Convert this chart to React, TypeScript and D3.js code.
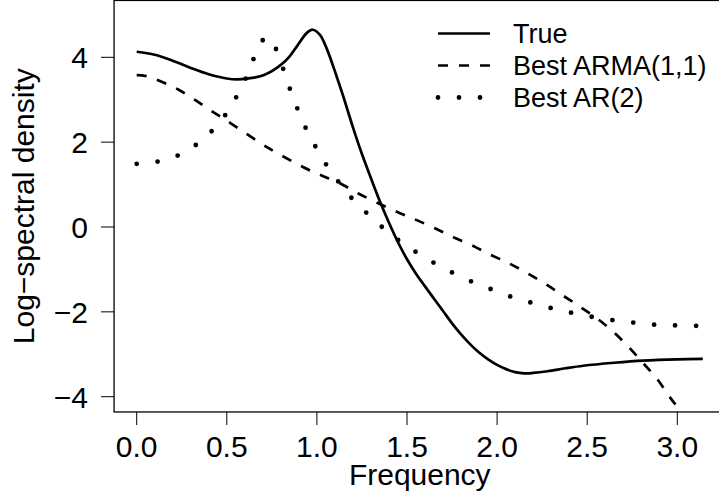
import React from "react";
import * as d3 from "d3";

const trueFreq = [0, 0.1, 0.2, 0.3, 0.4, 0.5, 0.56, 0.65, 0.707, 0.8, 0.85, 0.891, 0.943, 0.977, 1.017, 1.054, 1.091, 1.119, 1.147, 1.2, 1.25, 1.3, 1.35, 1.4, 1.45, 1.5, 1.55, 1.6, 1.65, 1.7, 1.75, 1.8, 1.85, 1.9, 1.95, 2.0, 2.05, 2.1, 2.15, 2.2, 2.28, 2.38, 2.478, 2.65, 2.811, 3.0, 3.1416];
const trueVals = [4.13, 4.06, 3.92, 3.75, 3.6, 3.5, 3.48, 3.52, 3.58, 3.82, 4.03, 4.27, 4.57, 4.65, 4.53, 4.21, 3.78, 3.43, 3.07, 2.35, 1.72, 1.15, 0.6, 0.1, -0.36, -0.76, -1.1, -1.4, -1.69, -1.98, -2.27, -2.53, -2.76, -2.96, -3.12, -3.25, -3.35, -3.42, -3.45, -3.44, -3.4, -3.33, -3.27, -3.2, -3.15, -3.12, -3.11];

const armaFreq = [0, 0.05, 0.1, 0.235, 0.42, 0.52, 0.72, 0.92, 1.017, 1.128, 1.23, 1.443, 1.544, 1.655, 1.757, 1.859, 1.961, 2.068, 2.168, 2.271, 2.367, 2.464, 2.553, 2.645, 2.728, 2.811, 2.886, 2.95, 3.006, 3.1416];
const armaVals = [3.58, 3.56, 3.49, 3.23, 2.72, 2.45, 1.89, 1.42, 1.23, 1.03, 0.79, 0.36, 0.18, -0.03, -0.24, -0.43, -0.65, -0.86, -1.09, -1.35, -1.62, -1.89, -2.15, -2.47, -2.82, -3.21, -3.57, -3.96, -4.28, -5.1];

const arFreq = [0, 0.114, 0.225, 0.327, 0.414, 0.49, 0.551, 0.605, 0.647, 0.697, 0.725, 0.771, 0.812, 0.849, 0.89, 0.935, 0.989, 1.049, 1.119, 1.189, 1.271, 1.356, 1.446, 1.543, 1.643, 1.744, 1.85, 1.957, 2.068, 2.177, 2.29, 2.4, 2.517, 2.634, 2.749, 2.863, 2.98, 3.096, 3.1416];
const arVals = [1.49, 1.54, 1.68, 1.93, 2.25, 2.63, 3.05, 3.5, 3.95, 4.39, 4.48, 4.21, 3.74, 3.27, 2.81, 2.36, 1.92, 1.49, 1.07, 0.7, 0.35, 0.02, -0.29, -0.57, -0.83, -1.06, -1.27, -1.45, -1.63, -1.77, -1.9, -2.01, -2.11, -2.19, -2.25, -2.3, -2.32, -2.33, -2.33];

const xTicks = [0, 0.5, 1.0, 1.5, 2.0, 2.5, 3.0];
const yTicks = [-4, -2, 0, 2, 4];
const legendLabels = ["True", "Best ARMA(1,1)", "Best AR(2)"];
const xLimits = [-0.04 * Math.PI, 1.04 * Math.PI];
const yLimits = [-4.36, 5.34];

const W = 719;
const H = 495;
const FONT = "'Liberation Sans', Arial, Helvetica, sans-serif";

export default function App() {
  const x = d3.scaleLinear().domain([0, 3]).range([136.7, 677.3]);
  const y = d3.scaleLinear().domain([-4, 4]).range([396.7, 57.3]);
  const left = x(xLimits[0]);
  const right = x(xLimits[1]);
  const top = y(yLimits[1]);
  const bottom = y(yLimits[0]);

  const line = d3
    .line<[number, number]>()
    .x((d) => x(d[0]))
    .y((d) => y(d[1]))
    .curve(d3.curveCatmullRom.alpha(0.5));

  const toPts = (fs: number[], vs: number[]) => fs.map((f, i) => [f, vs[i]] as [number, number]);
  const fmtY = (v: number) => (v < 0 ? "\u2212" + Math.abs(v) : String(v));

  const styles = [
    { strokeWidth: 2.7, dash: undefined as string | undefined, cap: "butt" },
    { strokeWidth: 2.7, dash: "10 11", cap: "butt" },
    { strokeWidth: 4.8, dash: "0 21", cap: "round" },
  ];
  const series = [toPts(trueFreq, trueVals), toPts(armaFreq, armaVals), toPts(arFreq, arVals)];
  const legendY = [33.5, 65.5, 97.5];

  return (
    <svg width={W} height={H} style={{ position: "absolute", left: 0, top: 0, background: "#fff" }} fontFamily={FONT}>
      <defs>
        <clipPath id="plotclip">
          <rect x={left} y={top} width={right - left} height={bottom - top} />
        </clipPath>
      </defs>
      <rect x={0} y={0} width={W} height={H} fill="#fff" />
      <g clipPath="url(#plotclip)">
        {series.map((pts, i) => (
          <path
            key={i}
            d={line(pts) || ""}
            fill="none"
            stroke="#000"
            strokeWidth={styles[i].strokeWidth}
            strokeDasharray={styles[i].dash}
            strokeLinecap={styles[i].cap as any}
            strokeLinejoin="round"
          />
        ))}
      </g>
      <rect x={left} y={top} width={right - left} height={bottom - top} fill="none" stroke="#000" strokeWidth={1.3} />
      {yTicks.map((t) => (
        <g key={"y" + t}>
          <line x1={left - 13} x2={left} y1={y(t)} y2={y(t)} stroke="#000" strokeWidth={1} />
          <text x={88} y={y(t)} dy="0.36em" textAnchor="end" fontSize={30}>
            {fmtY(t)}
          </text>
        </g>
      ))}
      {xTicks.map((t) => (
        <g key={"x" + t}>
          <line x1={x(t)} x2={x(t)} y1={bottom} y2={bottom + 13} stroke="#000" strokeWidth={1} />
          <text x={x(t)} y={456.7} textAnchor="middle" fontSize={30}>
            {t.toFixed(1)}
          </text>
        </g>
      ))}
      <text x={(left + right) / 2} y={485} textAnchor="middle" fontSize={30}>
        Frequency
      </text>
      <text transform={`translate(34,${(top + bottom) / 2}) rotate(-90)`} textAnchor="middle" fontSize={30}>
        Log−spectral density
      </text>
      {legendLabels.map((lab, i) => (
        <g key={lab}>
          <line
            x1={438}
            x2={490}
            y1={legendY[i]}
            y2={legendY[i]}
            stroke="#000"
            strokeWidth={styles[i].strokeWidth}
            strokeDasharray={styles[i].dash}
            strokeLinecap={styles[i].cap as any}
          />
          <text x={513} y={legendY[i]} dy="0.36em" fontSize={27}>
            {lab}
          </text>
        </g>
      ))}
    </svg>
  );
}
